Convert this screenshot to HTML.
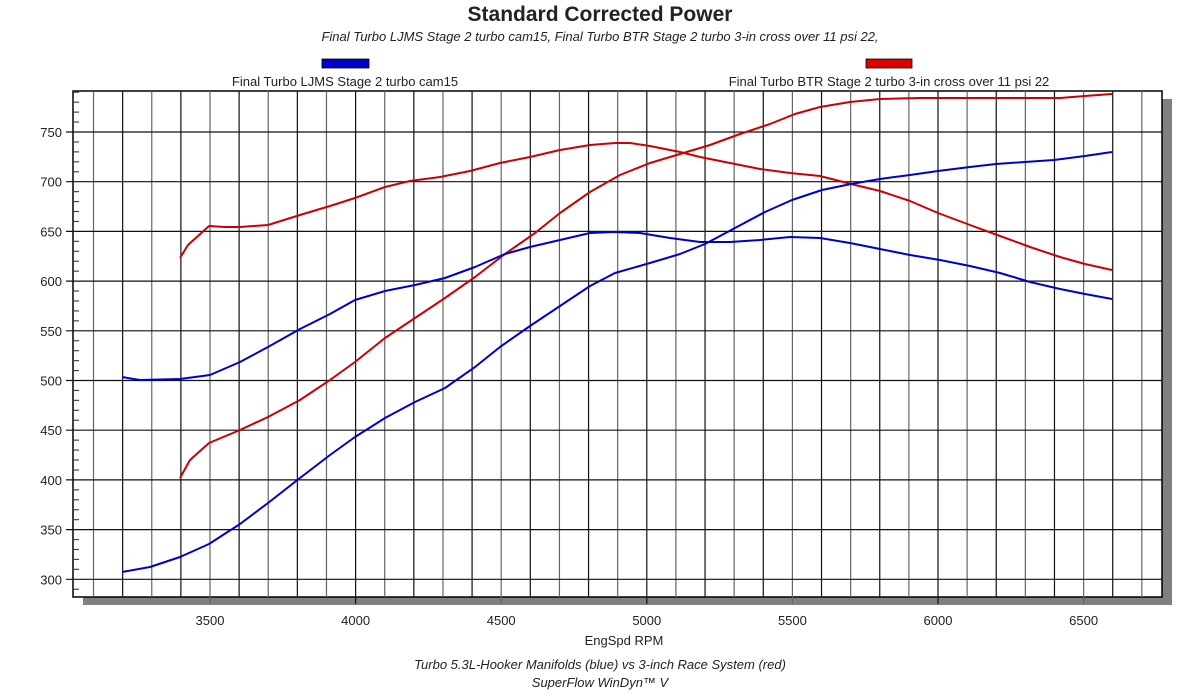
<!DOCTYPE html>
<html><head><meta charset="utf-8"><style>
body{margin:0;background:#fff;}
svg text{font-family:"Liberation Sans",sans-serif;fill:#222;}
</style></head><body>
<svg width="1200" height="692" viewBox="0 0 1200 692" xmlns="http://www.w3.org/2000/svg">
<text x="600" y="21" font-size="21" font-weight="bold" text-anchor="middle" fill="#000">Standard Corrected Power</text>
<text x="600" y="41" font-size="13" font-style="italic" text-anchor="middle">Final Turbo LJMS Stage 2 turbo cam15, Final Turbo BTR Stage 2 turbo 3-in cross over 11 psi 22,</text>
<rect x="322" y="59" width="47" height="9" fill="#0000cc" stroke="#000" stroke-width="0.8"/>
<rect x="866" y="59" width="46" height="9" fill="#dd0000" stroke="#000" stroke-width="0.8"/>
<text x="345" y="86" font-size="13" text-anchor="middle">Final Turbo LJMS Stage 2 turbo cam15</text>
<text x="889" y="86" font-size="13" text-anchor="middle">Final Turbo BTR Stage 2 turbo 3-in cross over 11 psi 22</text>
<rect x="83" y="99" width="89" height="506" fill="#808080"/>
<rect x="83" y="597" width="1089" height="8" fill="#808080"/>
<rect x="1162" y="99" width="10" height="506" fill="#808080"/>
<rect x="73" y="91" width="1089" height="506" fill="#fff" stroke="#000" stroke-width="1.5"/>
<g id="grid" stroke-width="1.2"></g>
<g font-size="13" id="lbl"></g>
<text x="624" y="645" font-size="13" text-anchor="middle">EngSpd RPM</text>
<text x="600" y="669" font-size="13" font-style="italic" text-anchor="middle">Turbo 5.3L-Hooker Manifolds (blue) vs 3-inch Race System (red)</text>
<text x="600" y="687" font-size="13" font-style="italic" text-anchor="middle">SuperFlow WinDyn™ V</text>
<g fill="none" stroke-width="2" stroke-linejoin="round">
<polyline stroke="#cc0000" points="180,258 188,245 209,226 225,227 240,227 268,225 300,215 330,206 355,198 385,187 410,181 440,177 470,171 500,163 530,157 560,150 590,145 615,143 630,143 650,146 680,152 700,157 730,163 760,169 790,173 820,176 851,184 880,191 910,201 938,213 970,225 1000,236 1030,247 1060,257 1085,264 1112,270"/>
<polyline stroke="#cc0000" points="180,478 190,460 209,443 240,430 268,417 300,400 330,380 355,362 385,338 415,318 445,298 475,277 505,254 535,233 560,213 590,192 620,175 650,163 680,154 710,145 740,134 770,124 795,114 820,107 850,102 880,99 920,98 970,98 1000,98 1060,98 1085,96 1112,94"/>
<polyline stroke="#0000cc" points="122,377 140,380 180,379 210,375 240,362 268,347 300,329 330,314 355,300 385,291 415,285 445,278 475,267 505,254 530,247 560,240 590,233 615,232 640,233 670,238 700,242 730,242 760,240 790,237 820,238 850,243 880,249 910,255 940,260 970,266 1000,273 1030,282 1060,289 1085,294 1112,299"/>
<polyline stroke="#0000cc" points="122,572 150,567 180,557 209,544 240,524 268,503 300,478 330,455 355,437 385,418 415,402 445,388 475,367 500,347 530,326 560,306 590,286 615,273 650,263 680,254 705,244 735,228 765,212 792,200 822,190 851,184 880,179 910,175 938,171 970,167 996,164 1025,162 1054,160 1085,156 1112,152"/>
</g>
</svg>
<script>
var g=document.getElementById('grid'),l=document.getElementById('lbl'),ns='http://www.w3.org/2000/svg';
function el(p,t,a){var e=document.createElementNS(ns,t);for(var k in a)e.setAttribute(k,a[k]);p.appendChild(e);return e;}
for(var r=3100;r<=6700;r+=100){var x=210+(r-3500)*0.2912;var maj=r%500==0;
el(g,'line',{x1:x,y1:91,x2:x,y2:maj?604:597,stroke:r%200==0?'#111':'#666'});
if(maj){var t=el(l,'text',{x:x,y:625,'text-anchor':'middle'});t.textContent=r;}}
for(var v=290;v<=790;v+=10){var y=132+(750-v)*0.994;
if(v%50==0){el(g,'line',{x1:66,y1:y,x2:1162,y2:y,stroke:'#111'});var t=el(l,'text',{x:62,y:y+5,'text-anchor':'end'});t.textContent=v;}
else el(g,'line',{x1:73,y1:y,x2:79,y2:y,stroke:'#444'});}
</script>
</body></html>
